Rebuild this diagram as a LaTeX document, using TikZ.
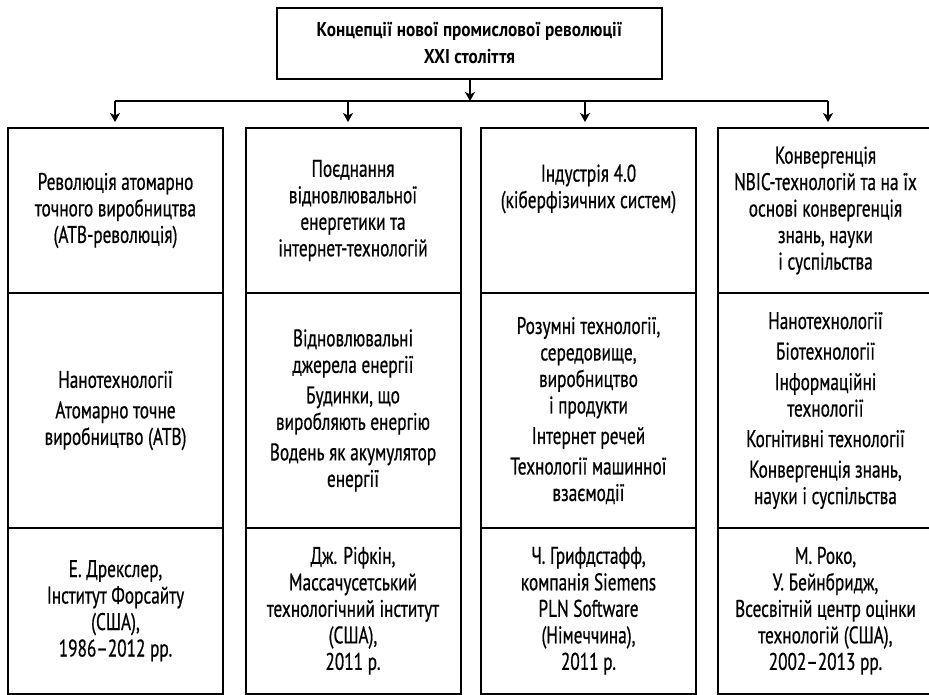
\documentclass[tikz,border=0pt]{standalone}
\usepackage{fontspec}
\setmainfont{PT Sans}[FakeStretch=0.72, FakeBold=0.6]
\newfontfamily\headfont{PT Sans}[FakeStretch=0.86]
\usetikzlibrary{arrows.meta}
\begin{document}
\begin{tikzpicture}[x=1pt,y=-1pt,
  frame/.style={draw, line width=2pt, rectangle, inner sep=0pt, align=center},
  cell/.style={frame, minimum width=215pt, font=\fontsize{24}{26.5}\selectfont},
  headcell/.style={cell, minimum height=165pt},
  techcell/.style={cell, minimum height=235pt},
  authcell/.style={cell, minimum height=165.5pt},
  titlebox/.style={frame, minimum width=385pt, minimum height=71pt,
    font=\headfont\bfseries\fontsize{20}{27}\selectfont},
  link/.style={line width=1.3pt},
  arr/.style={link, -{Stealth[length=9pt,width=10pt,inset=2.5pt]}}]
\useasboundingbox (0,0) rectangle (929,694);
\clip (0,0) rectangle (929,694);

% title
\node[titlebox] (top) at (469.5,43.5)
  {Концепції нової промислової революції\\XXI століття};

% first row: the concepts
\node[headcell] (h1) at (115.5,210.5)
  {Революція атомарно\\точного виробництва\\(АТВ-революція)};
\node[headcell] (h2) at (353,210.5)
  {Поєднання\\відновлювальної\\енергетики та\\інтернет-технологій};
\node[headcell] (h3) at (588.5,210.5)
  {Індустрія 4.0\\(кіберфізичних систем)\\[22pt]\mbox{}};
\node[headcell] (h4) at (825.5,210.5)
  {Конвергенція\\NBIC-технологій та на їх\\основі конвергенція\\знань, науки\\і суспільства};

% second row: key technologies
\node[techcell] (t1) at (115.5,410.5)
  {Нанотехнології\\[4pt]Атомарно точне\\виробництво (АТВ)};
\node[techcell] (t2) at (353,410.5)
  {Відновлювальні\\джерела енергії\\[4pt]Будинки, що\\виробляють енергію\\[4pt]Водень як акумулятор\\енергії};
\node[techcell] (t3) at (588.5,410.5)
  {Розумні технології,\\середовище,\\виробництво\\і продукти\\[4pt]Інтернет речей\\[4pt]Технології машинної\\взаємодії};
\node[techcell] (t4) at (825.5,410.5)
  {Нанотехнології\\[4pt]Біотехнології\\[4pt]Інформаційні\\технології\\[4pt]Когнітивні технології\\[4pt]Конвергенція знань,\\науки і суспільства};

% third row: authors
\node[authcell] (a1) at (115.5,610.75)
  {Е. Дрекслер,\\Інститут Форсайту\\(США),\\1986–2012 рр.};
\node[authcell] (a2) at (353,610.75)
  {Дж. Ріфкін,\\Массачусетський\\технологічний інститут\\(США),\\2011 р.};
\node[authcell] (a3) at (588.5,610.75)
  {Ч. Грифдстафф,\\компанія Siemens\\PLN Software\\(Німеччина),\\2011 р.};
\node[authcell] (a4) at (825.5,610.75)
  {М. Роко,\\У. Бейнбридж,\\Всесвітній центр оцінки\\технологій (США),\\2002–2013 рр.};

% distribution bus
\coordinate (bmid) at (470,101);
\coordinate (b1) at (115,101);
\coordinate (b2) at (348,101);
\coordinate (b3) at (585,101);
\coordinate (b4) at (828,101);
\draw[link] (b1) -- (b4);
\draw[arr] (top.south -| bmid) -- (bmid);
\draw[arr, shorten >=5pt] (b1) -- (b1 |- h1.north);
\draw[arr, shorten >=5pt] (b2) -- (b2 |- h2.north);
\draw[arr, shorten >=5pt] (b3) -- (b3 |- h3.north);
\draw[arr, shorten >=5pt] (b4) -- (b4 |- h4.north);
\end{tikzpicture}
\end{document}
